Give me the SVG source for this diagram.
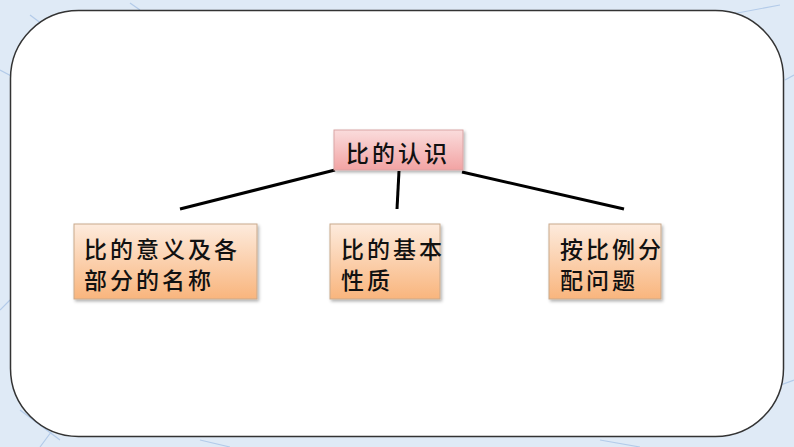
<svg xmlns="http://www.w3.org/2000/svg" width="794" height="447" viewBox="0 0 794 447">
<style>
.t{font-family:"Noto Sans CJK SC","Noto Sans CJK TC",sans-serif;font-size:23px;fill:#111;letter-spacing:3px;font-weight:500}
.box{stroke:#c9a98c;stroke-width:1}
.conn{stroke:#000;stroke-width:3;fill:none}
.sk{stroke:#b3cbe9;stroke-width:1.2;fill:none}
</style>
<defs>
<linearGradient id="gp" x1="0" y1="0" x2="0" y2="1">
<stop offset="0" stop-color="#fadcdc"/>
<stop offset="1" stop-color="#f2a3a3"/>
</linearGradient>
<linearGradient id="go" x1="0" y1="0" x2="0" y2="1">
<stop offset="0" stop-color="#fdebdd"/>
<stop offset="1" stop-color="#f9b57d"/>
</linearGradient>
<filter id="sh" x="-10%" y="-10%" width="125%" height="130%">
<feDropShadow dx="1.5" dy="2" stdDeviation="1.5" flood-color="#000" flood-opacity="0.3"/>
</filter>
</defs>
<rect x="0" y="0" width="794" height="447" fill="#dfeaf6"/>
<g class="sk">
<path d="M30 15 L50 30 M130 3 L140 10 M700 20 L780 5 M785 80 L794 75 M0 70 L15 78 M10 300 L0 310 M20 410 L60 440 M60 420 L40 447 M740 400 L794 380 M200 440 L230 447 M600 440 L640 447"/>
</g>
<rect x="10.5" y="10.5" width="773" height="426" rx="68" ry="68" fill="#fff" stroke="#333" stroke-width="1.5"/>
<g id="connectors">
<line class="conn" x1="180" y1="209" x2="335" y2="170"/>
<line class="conn" x1="399" y1="171" x2="397" y2="209"/>
<line class="conn" x1="462" y1="172" x2="624" y2="209"/>
</g>
<g id="node-root">
<rect x="334" y="130" width="129" height="40" fill="url(#gp)" stroke="#d9a5a5" stroke-width="1" filter="url(#sh)"/>
<text class="t" x="346" y="162">比的认识</text>
</g>
<g id="node-1">
<rect class="box" x="74" y="224" width="183" height="75" fill="url(#go)" filter="url(#sh)"/>
<text class="t" x="84" y="258">比的意义及各</text>
<text class="t" x="84" y="289">部分的名称</text>
</g>
<g id="node-2">
<rect class="box" x="330" y="224" width="110" height="75" fill="url(#go)" filter="url(#sh)"/>
<text class="t" x="341" y="258">比的基本</text>
<text class="t" x="341" y="289">性质</text>
</g>
<g id="node-3">
<rect class="box" x="549" y="224" width="112" height="75" fill="url(#go)" filter="url(#sh)"/>
<text class="t" x="560" y="258">按比例分</text>
<text class="t" x="560" y="289">配问题</text>
</g>
</svg>
